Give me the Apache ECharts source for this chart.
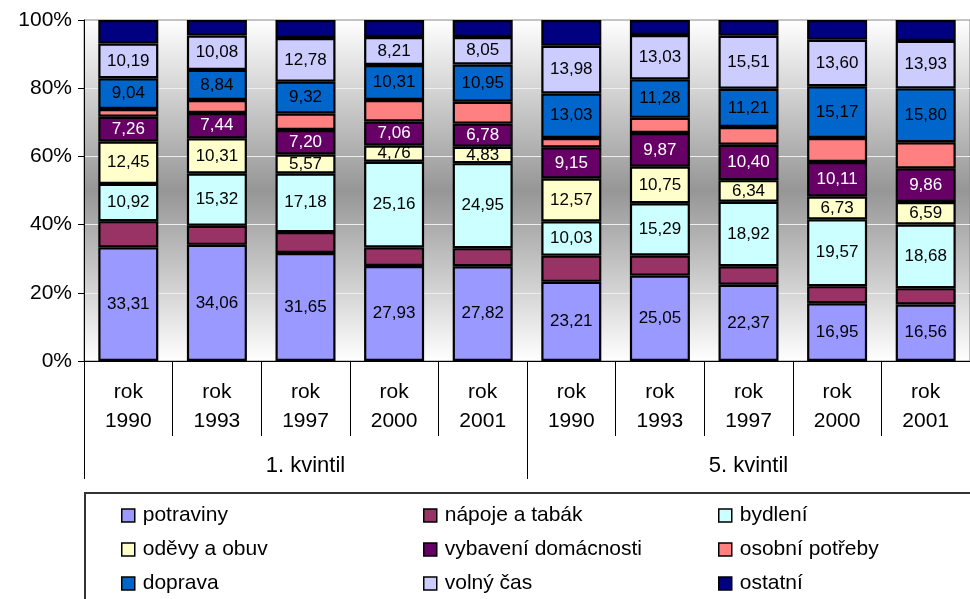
<!DOCTYPE html>
<html>
<head>
<meta charset="utf-8">
<script src="https://cdn.jsdelivr.net/npm/echarts@6/dist/echarts.min.js"></script>
<style>
  html, body { margin: 0; padding: 0; background: #fff; }
  #chart { width: 970px; height: 599px; }
</style>
</head>
<body>
<div id="chart"></div>
<script>
// categories
const years = ['1990', '1993', '1997', '2000', '2001', '1990', '1993', '1997', '2000', '2001'];
const groups = ['1. kvintil', '5. kvintil'];
const yTicks = [0, 20, 40, 60, 80, 100];

// shares of expenditure (unlabelled series)
const potraviny = [33.31, 34.06, 31.65, 27.93, 27.82, 23.21, 25.05, 22.37, 16.95, 16.56];
const napoje = [7.70, 5.60, 6.15, 5.45, 5.30, 7.70, 5.90, 5.40, 5.00, 4.80];
const bydleni = [10.92, 15.32, 17.18, 25.16, 24.95, 10.03, 15.29, 18.92, 19.57, 18.68];
const odevy = [12.45, 10.31, 5.57, 4.76, 4.83, 12.57, 10.75, 6.34, 6.73, 6.59];
const vybaveni = [7.26, 7.44, 7.20, 7.06, 6.78, 9.15, 9.87, 10.40, 10.11, 9.86];
const osobni = [2.25, 3.80, 4.85, 6.30, 6.40, 2.75, 4.45, 5.20, 7.05, 7.65];
const doprava = [9.04, 8.84, 9.32, 10.31, 10.95, 13.03, 11.28, 11.21, 15.17, 15.80];
const volny = [10.19, 10.08, 12.78, 8.21, 8.05, 13.98, 13.03, 15.51, 13.60, 13.93];
const ostatni = [6.88, 4.55, 5.30, 5.00, 5.00, 7.58, 4.38, 4.65, 5.82, 6.13];

const FONT = "'Liberation Sans', Arial, sans-serif";

const seriesDefs = [
  { name: 'potraviny', data: potraviny, color: '#9999FF', label: true, text: '#000' },
  { name: 'nápoje a tabák', data: napoje, color: '#993366', label: false },
  { name: 'bydlení', data: bydleni, color: '#CCFFFF', label: true, text: '#000' },
  { name: 'oděvy a obuv', data: odevy, color: '#FFFFCC', label: true, text: '#000' },
  { name: 'vybavení domácnosti', data: vybaveni, color: '#660066', label: true, text: '#fff' },
  { name: 'osobní potřeby', data: osobni, color: '#FF8080', label: false },
  { name: 'doprava', data: doprava, color: '#0066CC', label: true, text: '#000' },
  { name: 'volný čas', data: volny, color: '#CCCCFF', label: true, text: '#000' },
  { name: 'ostatní', data: ostatni, color: '#000080', label: false }
];

// 100 % stacking: totals per column
const totals = years.map((_, i) => seriesDefs.reduce((s, d) => s + d.data[i], 0));

const series = seriesDefs.map(d => ({
  name: d.name,
  type: 'bar',
  stack: 'total',
  barWidth: 60,
  data: d.data.map((v, i) => v / totals[i] * 100),
  itemStyle: { color: d.color, borderColor: '#000', borderWidth: 2.2 },
  label: {
    show: d.label,
    position: 'inside',
    color: d.text || '#000',
    fontFamily: FONT,
    fontSize: 17,
    formatter: p => d.data[p.dataIndex].toFixed(2).replace('.', ',')
  },
  emphasis: { disabled: true }
}));

// legend grid: 3 columns x 3 rows, filled row by row
const legendCols = [121, 423, 718];
const legendRows = [505, 539, 573];
const legends = seriesDefs.map((d, i) => ({
  data: [d.name],
  left: legendCols[i % 3],
  top: legendRows[Math.floor(i / 3)],
  padding: 0,
  itemWidth: 13,
  itemHeight: 13,
  icon: 'rect',
  selectedMode: false,
  itemStyle: { borderColor: '#000', borderWidth: 1.5 },
  textStyle: { fontFamily: FONT, fontSize: 21, lineHeight: 20, color: '#000', padding: [0, 0, 0, 3] }
}));

const chart = echarts.init(document.getElementById('chart'));
chart.setOption({
  animation: false,
  grid: {
    left: 84, right: 0, top: 20, bottom: 238,
    show: true,
    borderColor: '#888',
    borderWidth: 1,
    backgroundColor: new echarts.graphic.LinearGradient(0, 0, 0, 1, [
      { offset: 0, color: '#ffffff' },
      { offset: 0.5, color: '#969696' },
      { offset: 1, color: '#ffffff' }
    ])
  },
  legend: legends,
  xAxis: [
    {
      type: 'category',
      data: years.map(y => 'rok\n' + y),
      axisLine: { lineStyle: { color: '#000', width: 1 } },
      axisTick: { show: true, interval: 0, length: 75, lineStyle: { color: '#000' } },
      axisLabel: {
        interval: 0, margin: 17, color: '#000',
        fontFamily: FONT, fontSize: 21, lineHeight: 29
      }
    },
    {
      type: 'category',
      position: 'bottom',
      offset: 0,
      data: groups,
      axisLine: { show: false },
      axisTick: { show: true, interval: 0, length: 118, lineStyle: { color: '#000' } },
      axisLabel: {
        interval: 0, margin: 94, color: '#000',
        fontFamily: FONT, fontSize: 22
      }
    }
  ],
  yAxis: {
    type: 'value',
    min: yTicks[0],
    max: yTicks[yTicks.length - 1],
    interval: 20,
    axisLine: { show: true, lineStyle: { color: '#000' } },
    axisTick: { show: true, length: 6, lineStyle: { color: '#000' } },
    axisLabel: {
      formatter: '{value}%', color: '#000', margin: 12,
      fontFamily: FONT, fontSize: 21
    },
    splitLine: { show: true, showMaxLine: false, showMinLine: false, lineStyle: { color: '#eeeeee', width: 1 } }
  },
  graphic: [
    {
      type: 'rect',
      silent: true,
      z: -1,
      shape: { x: 85, y: 493, width: 900, height: 120 },
      style: { fill: '#fff', stroke: '#333', lineWidth: 2 }
    }
  ],
  series: series
});
</script>
</body>
</html>
